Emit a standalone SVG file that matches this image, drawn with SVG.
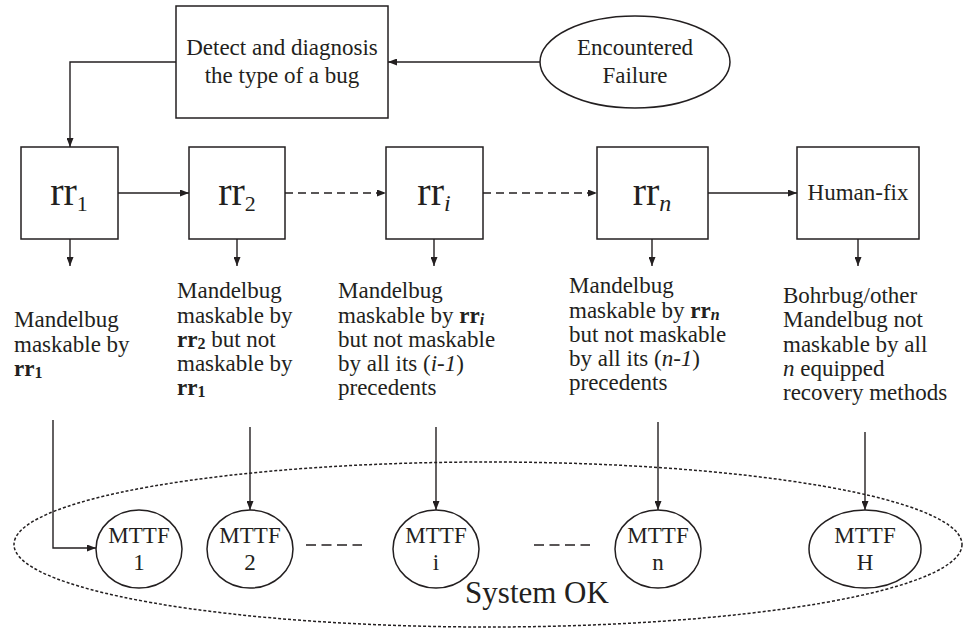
<svg xmlns="http://www.w3.org/2000/svg" width="963" height="628" viewBox="0 0 963 628">
<style>
.box{fill:#fff;stroke:#231f20;stroke-width:1.5}
.ln{fill:none;stroke:#231f20;stroke-width:1.4}
.dsh{stroke-dasharray:8 5}
text{font-family:"Liberation Serif","Times New Roman",serif;fill:#231f20}
.t23{font-size:23px}
.c{text-anchor:middle}
.rr{font-size:40px}
.b{font-weight:bold}
.i{font-style:italic}
</style>
<defs>
<marker id="ah" markerWidth="9" markerHeight="7" refX="9" refY="3.5" orient="auto" markerUnits="userSpaceOnUse">
<path d="M0,0 L9,3.5 L0,7 z" fill="#231f20"/>
</marker>
</defs>
<rect width="963" height="628" fill="#fff"/>

<g id="system-ok">
<ellipse cx="488" cy="544.5" rx="474" ry="82.5" fill="none" stroke="#231f20" stroke-width="1.5" stroke-dasharray="3 2"/>
<text x="537" y="603" class="c" font-size="31">System OK</text>
</g>

<g id="connectors">
<path class="ln" d="M540,62 L388,62" marker-end="url(#ah)"/>
<path class="ln" d="M176,62 L70,62 L70,147" marker-end="url(#ah)"/>
<path class="ln" d="M118,193 L189,193" marker-end="url(#ah)"/>
<path class="ln dsh" d="M285,193 L386,193" marker-end="url(#ah)"/>
<path class="ln dsh" d="M483,193 L597,193" marker-end="url(#ah)"/>
<path class="ln" d="M708,193 L797,193" marker-end="url(#ah)"/>
<path class="ln" d="M70,239 L70,266" marker-end="url(#ah)"/>
<path class="ln" d="M237,239 L237,266" marker-end="url(#ah)"/>
<path class="ln" d="M434,239 L434,266" marker-end="url(#ah)"/>
<path class="ln" d="M652,239 L652,266" marker-end="url(#ah)"/>
<path class="ln" d="M858,239 L858,266" marker-end="url(#ah)"/>
<path class="ln" d="M53,420 L53,548 L96,548" marker-end="url(#ah)"/>
<path class="ln" d="M250,427 L250,510" marker-end="url(#ah)"/>
<path class="ln" d="M436,427 L436,510" marker-end="url(#ah)"/>
<path class="ln" d="M658,422 L658,510" marker-end="url(#ah)"/>
<path class="ln" d="M865,432 L865,510" marker-end="url(#ah)"/>
<path class="ln" d="M306,545 L362,545" stroke-dasharray="10 5.5"/>
<path class="ln" d="M534,545 L590,545" stroke-dasharray="10 5.5"/>
</g>

<g id="detect">
<rect class="box" x="176" y="6" width="212" height="112"/>
<text class="t23 c" x="282" y="55">Detect and diagnosis</text>
<text class="t23 c" x="282" y="83">the type of a bug</text>
</g>

<g id="encountered">
<ellipse class="box" cx="635" cy="62" rx="95" ry="46"/>
<text class="t23 c" x="635" y="55">Encountered</text>
<text class="t23 c" x="635" y="83">Failure</text>
</g>

<g id="rr1">
<rect class="box" x="21" y="147" width="97" height="92"/>
<text class="rr c" x="69" y="205">rr<tspan font-size="22" dy="6">1</tspan></text>
</g>
<g id="rr2">
<rect class="box" x="189" y="147" width="96" height="92"/>
<text class="rr c" x="237" y="205">rr<tspan font-size="22" dy="6">2</tspan></text>
</g>
<g id="rri">
<rect class="box" x="386" y="147" width="97" height="92"/>
<text class="rr c" x="434" y="205">rr<tspan font-size="24" dy="6" class="i">i</tspan></text>
</g>
<g id="rrn">
<rect class="box" x="597" y="147" width="111" height="92"/>
<text class="rr c" x="652" y="205">rr<tspan font-size="24" dy="6" class="i">n</tspan></text>
</g>
<g id="human-fix">
<rect class="box" x="797" y="147" width="122" height="92"/>
<text class="t23 c" x="858" y="200">Human-fix</text>
</g>

<g id="label1" class="t23">
<text x="14" y="327" class="t23">Mandelbug</text>
<text x="14" y="352" class="t23">maskable by</text>
<text x="14" y="376" class="t23 b">rr<tspan font-size="16" dy="2">1</tspan></text>
</g>
<g id="label2">
<text x="177" y="298" class="t23">Mandelbug</text>
<text x="177" y="323" class="t23">maskable by</text>
<text x="177" y="347" class="t23"><tspan class="b">rr</tspan><tspan class="b" font-size="16" dy="2">2</tspan><tspan dy="-2"> but not</tspan></text>
<text x="177" y="371" class="t23">maskable by</text>
<text x="177" y="395" class="t23 b">rr<tspan font-size="16" dy="2">1</tspan></text>
</g>
<g id="labeli">
<text x="338" y="298" class="t23">Mandelbug</text>
<text x="338" y="323" class="t23">maskable by <tspan class="b">rr</tspan><tspan class="b i" font-size="16" dy="2">i</tspan></text>
<text x="338" y="347" class="t23">but not maskable</text>
<text x="338" y="371" class="t23">by all its (<tspan class="i">i-1</tspan>)</text>
<text x="338" y="395" class="t23">precedents</text>
</g>
<g id="labeln">
<text x="569" y="293" class="t23">Mandelbug</text>
<text x="569" y="318" class="t23">maskable by <tspan class="b">rr</tspan><tspan class="b i" font-size="16" dy="2">n</tspan></text>
<text x="569" y="342" class="t23">but not maskable</text>
<text x="569" y="366" class="t23">by all its (<tspan class="i">n-1</tspan>)</text>
<text x="569" y="390" class="t23">precedents</text>
</g>
<g id="labelh">
<text x="783" y="303" class="t23">Bohrbug/other</text>
<text x="783" y="327" class="t23">Mandelbug not</text>
<text x="783" y="352" class="t23">maskable by all</text>
<text x="783" y="376" class="t23"><tspan class="i">n</tspan> equipped</text>
<text x="783" y="400" class="t23">recovery methods</text>
</g>

<g id="mttf1">
<ellipse class="box" cx="139" cy="549" rx="43" ry="39"/>
<text class="t23 c" x="139" y="543">MTTF</text>
<text class="t23 c" x="139" y="570">1</text>
</g>
<g id="mttf2">
<ellipse class="box" cx="250" cy="549" rx="43" ry="39"/>
<text class="t23 c" x="250" y="543">MTTF</text>
<text class="t23 c" x="250" y="570">2</text>
</g>
<g id="mttfi">
<ellipse class="box" cx="436" cy="549" rx="43" ry="39"/>
<text class="t23 c" x="436" y="543">MTTF</text>
<text class="t23 c" x="436" y="570">i</text>
</g>
<g id="mttfn">
<ellipse class="box" cx="658" cy="549" rx="43" ry="39"/>
<text class="t23 c" x="658" y="543">MTTF</text>
<text class="t23 c" x="658" y="570">n</text>
</g>
<g id="mttfh">
<ellipse class="box" cx="865" cy="549" rx="56" ry="39"/>
<text class="t23 c" x="865" y="543">MTTF</text>
<text class="t23 c" x="865" y="570">H</text>
</g>
</svg>
